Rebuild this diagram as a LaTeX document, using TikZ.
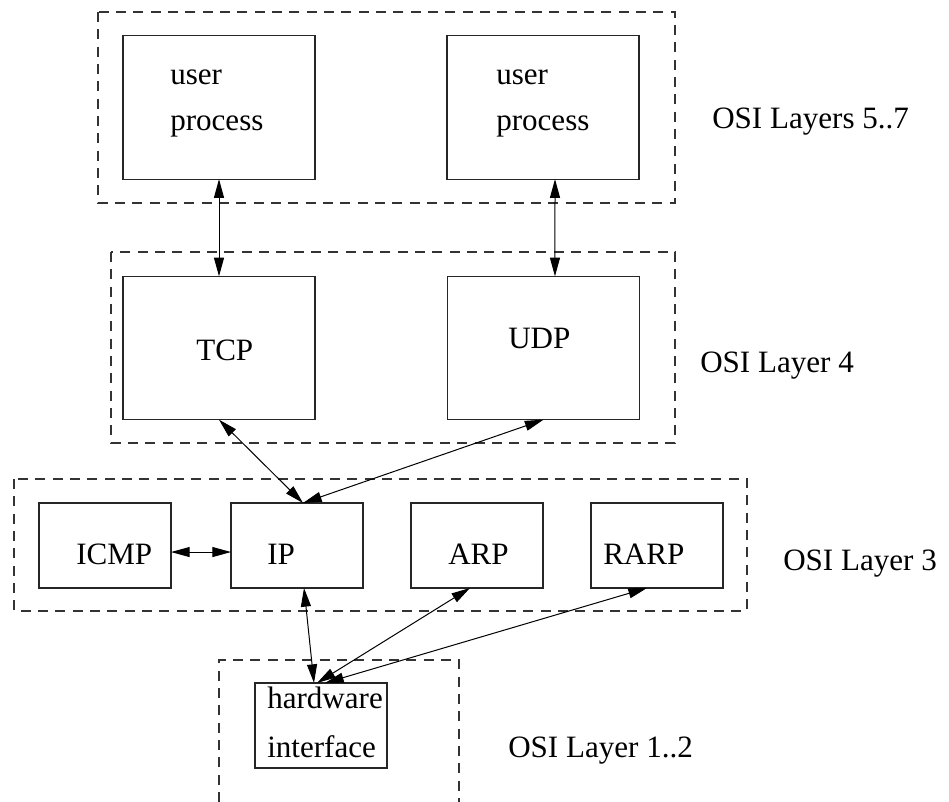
\documentclass[tikz,border=0pt]{standalone}
\usepackage{fontspec}
\setmainfont{Liberation Serif}
\usetikzlibrary{arrows.meta}
\begin{document}
\begin{tikzpicture}[x=0.75pt,y=-0.75pt,
  box/.style={draw=black!85,line width=0.8pt,inner sep=0pt,outer sep=0pt},
  bigbox/.style={box,minimum width=144pt,minimum height=107.5pt},
  smallbox/.style={box,minimum width=99pt,minimum height=63.75pt},
  layer/.style={draw=black!80,line width=0.8pt,dash pattern=on 7.5pt off 5.5pt},
  lbl/.style={anchor=base west,inner sep=0pt,font=\fontsize{23.3pt}{28pt}\selectfont},
  conn/.style={{Triangle[length=14pt,width=7.5pt]}-{Triangle[length=14pt,width=7.5pt]},line width=0.75pt}]
\useasboundingbox (0,0) rectangle (949,802);
% layer frames
\draw[layer] (98,12) rectangle (675,203);
\draw[layer] (111,252) rectangle (675,443);
\draw[layer] (14,479) rectangle (747,611);
\draw[layer] (219,802) -- (219,660) -- (459,660) -- (459,802);
% boxes
\node[bigbox] (up1) at (219,107.5) {};
\node[bigbox] (up2) at (543,107.5) {};
\node[bigbox] (tcp) at (219,348) {};
\node[bigbox] (udp) at (543.5,348) {};
\node[smallbox] (icmp) at (105,545.5) {};
\node[smallbox] (ip) at (297,545.5) {};
\node[smallbox] (arp) at (477,545.5) {};
\node[smallbox] (rarp) at (657,545.5) {};
\node[smallbox] (hw) at (321,725.5) {};
% texts
\node[lbl] (t1a) at (170,85) {user};
\node[lbl] (t1b) at (170,131) {process};
\node[lbl] (t2a) at (496,85) {user};
\node[lbl] (t2b) at (496,131) {process};
\node[lbl] (ttcp) at (196,360) {TCP};
\node[lbl] (tudp) at (508,348) {UDP};
\node[lbl] (ticmp) at (76,564) {ICMP};
\node[lbl] (tip) at (267,564) {IP};
\node[lbl] (tarp) at (448,564) {ARP};
\node[lbl] (trarp) at (603,564) {RARP};
\node[lbl] (thw1) at (267,708) {hardware};
\node[lbl] (thw2) at (267,757) {interface};
\node[lbl] (l57) at (712,129) {OSI Layers 5..7};
\node[lbl] (l4) at (700,372) {OSI Layer 4};
\node[lbl] (l3) at (783,570) {OSI Layer 3};
\node[lbl] (l12) at (508,757) {OSI Layer 1..2};
% connectors
\draw[conn] (up1.south) -- (tcp.north);
\draw[conn] ([xshift=9pt]up2.south) -- ([xshift=8.6pt]udp.north);
\draw[conn] (tcp.south) -- ([xshift=4.5pt]ip.north);
\draw[conn] (udp.south) -- ([xshift=4.5pt]ip.north);
\draw[conn] ([yshift=-4.9pt]icmp.east) -- ([yshift=-4.9pt]ip.west);
\draw[conn] ([xshift=5.25pt]ip.south) -- ([xshift=-5.25pt]hw.north);
\draw[conn] ([xshift=-5.25pt]arp.south) -- ([xshift=-3pt]hw.north);
\draw[conn] ([xshift=-7.5pt]rarp.south) -- ([xshift=3pt]hw.north);
\end{tikzpicture}
\end{document}
